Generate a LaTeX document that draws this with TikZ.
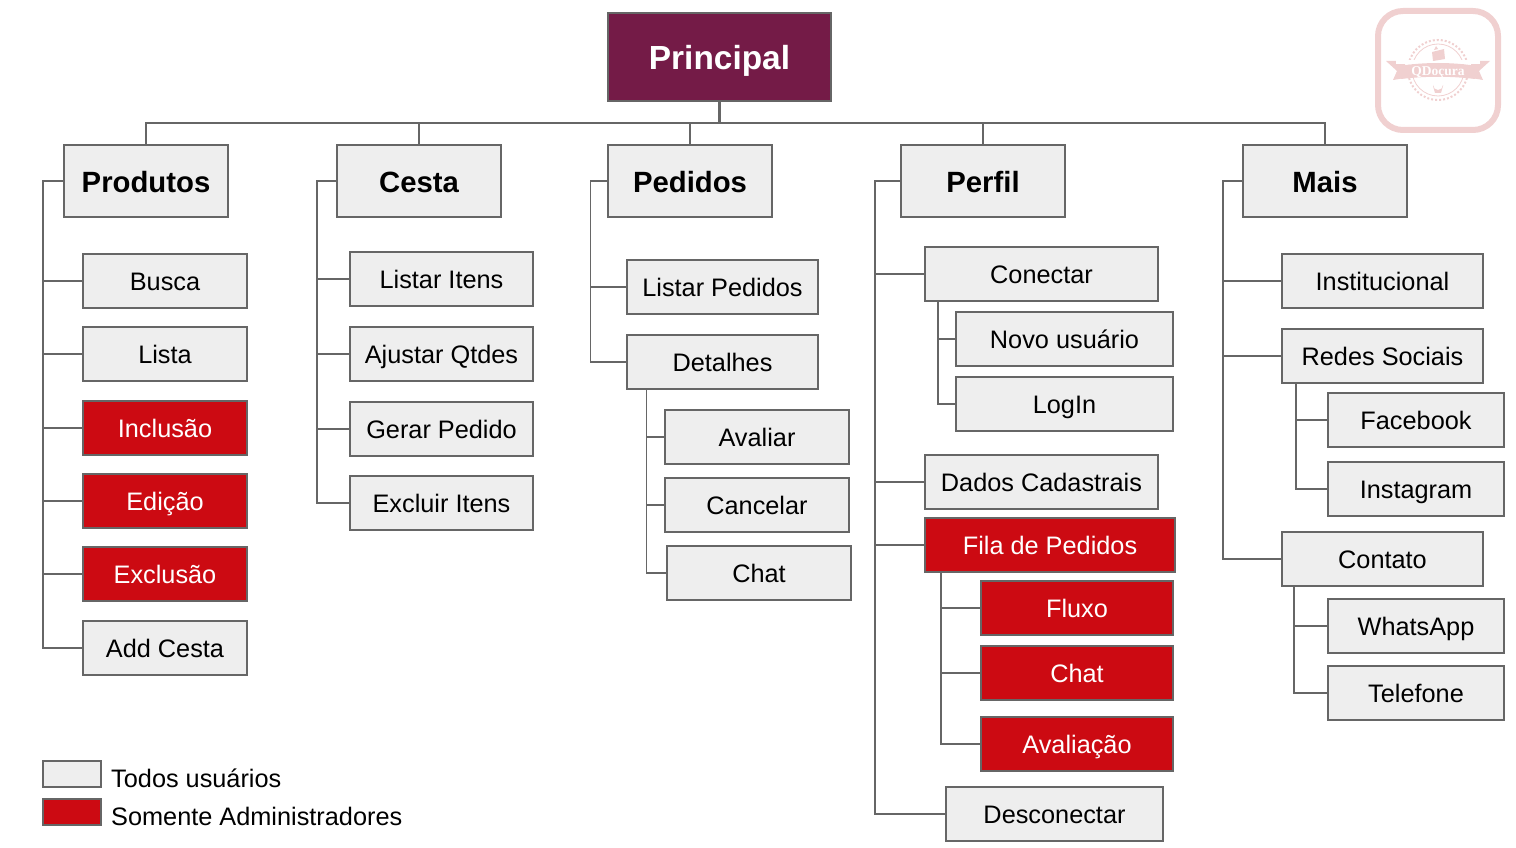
\documentclass[tikz,border=0pt]{standalone}
\usepackage{fontspec}
\setmainfont{Liberation Sans}
\newfontfamily\logofont{Liberation Serif}
\definecolor{boxgray}{HTML}{EEEEEE}
\definecolor{linegray}{HTML}{666666}
\definecolor{adminred}{HTML}{CC0A12}
\definecolor{wine}{HTML}{741B47}
\definecolor{logopink}{HTML}{F0D0D0}
\tikzset{
  basebox/.style={draw=linegray,line width=1.1pt,fill=boxgray,text=black,inner sep=0pt,text height=24.5pt,text depth=5.5pt,font=\fontsize{25.3}{30}\selectfont},
  headbox/.style={basebox,minimum width=164pt,minimum height=72pt,text height=29pt,text depth=6pt,font=\fontsize{29.3}{34}\selectfont\bfseries},
  leafbox/.style={basebox,minimum height=54pt},
  adminbox/.style={leafbox,fill=adminred,text=white},
  rootbox/.style={basebox,fill=wine,text=white,minimum width=223pt,minimum height=88pt,text height=32pt,text depth=7pt,font=\fontsize{33.4}{38}\selectfont\bfseries},
  legendbox/.style={draw=linegray,line width=1.1pt,minimum width=58pt,minimum height=26pt,inner sep=0pt},
  legendtext/.style={anchor=west,inner sep=0pt,text height=24.5pt,text depth=5.5pt,font=\fontsize{25.3}{30}\selectfont},
  link/.style={draw=linegray,line width=1.5pt},
}
\begin{document}
\begin{tikzpicture}[x=1pt,y=-1pt]
\useasboundingbox (0,0) rectangle (1516,848);
\coordinate (BUS) at (719.5,123); % top rail
\coordinate (TA) at (43,181); % left rails
\coordinate (TB) at (317,181);
\coordinate (TC) at (590.5,181);
\coordinate (TD) at (875,181);
\coordinate (TE) at (1223,181);
\coordinate (TDET) at (646.5,389); % rails under a leaf
\coordinate (TCON) at (938,301);
\coordinate (TFIL) at (941,572);
\coordinate (TRED) at (1296,383);
\coordinate (TCTT) at (1294,586);
% top rows
\node[rootbox] (principal) at (719.5,57) {Principal};
\node[headbox] (produtos) at (146,181) {Produtos};
\node[headbox] (cesta) at (419,181) {Cesta};
\node[headbox] (pedidos) at (690,181) {Pedidos};
\node[headbox] (perfil) at (983,181) {Perfil};
\node[headbox] (mais) at (1325,181) {Mais};
% produtos
\node[leafbox,minimum width=164pt] (busca) at (165,281) {Busca};
\node[leafbox,minimum width=164pt] (lista) at (165,354) {Lista};
\node[adminbox,minimum width=164pt] (inclusao) at (165,428) {Inclusão};
\node[adminbox,minimum width=164pt] (edicao) at (165,501) {Edição};
\node[adminbox,minimum width=164pt] (exclusao) at (165,574) {Exclusão};
\node[leafbox,minimum width=164pt] (addcesta) at (165,648) {Add Cesta};
% cesta
\node[leafbox,minimum width=183pt] (listaritens) at (441.5,279) {Listar Itens};
\node[leafbox,minimum width=183pt] (ajustar) at (441.5,354) {Ajustar Qtdes};
\node[leafbox,minimum width=183pt] (gerar) at (441.5,429) {Gerar Pedido};
\node[leafbox,minimum width=183pt] (excluir) at (441.5,503) {Excluir Itens};
% pedidos
\node[leafbox,minimum width=191pt] (listarped) at (722.5,287) {Listar Pedidos};
\node[leafbox,minimum width=191pt] (detalhes) at (722.5,362) {Detalhes};
\node[leafbox,minimum width=184pt] (avaliar) at (757,437) {Avaliar};
\node[leafbox,minimum width=184pt] (cancelar) at (757,505) {Cancelar};
\node[leafbox,minimum width=184pt] (chatped) at (759,573) {Chat};
% perfil
\node[leafbox,minimum width=233pt] (conectar) at (1041.5,274) {Conectar};
\node[leafbox,minimum width=217pt] (novo) at (1064.5,339) {Novo usuário};
\node[leafbox,minimum width=217pt] (login) at (1064.5,404) {LogIn};
\node[leafbox,minimum width=233pt] (dados) at (1041.5,482) {Dados Cadastrais};
\node[adminbox,minimum width=250pt] (fila) at (1050,545) {Fila de Pedidos};
\node[adminbox,minimum width=192pt] (fluxo) at (1077,608) {Fluxo};
\node[adminbox,minimum width=192pt] (chatfila) at (1077,673) {Chat};
\node[adminbox,minimum width=192pt] (avaliacao) at (1077,744) {Avaliação};
\node[leafbox,minimum width=217pt] (desconectar) at (1054.5,814) {Desconectar};
% mais
\node[leafbox,minimum width=201pt] (institucional) at (1382.5,281) {Institucional};
\node[leafbox,minimum width=201pt] (redes) at (1382.5,356) {Redes Sociais};
\node[leafbox,minimum width=176pt] (facebook) at (1416,420) {Facebook};
\node[leafbox,minimum width=176pt] (instagram) at (1416,489) {Instagram};
\node[leafbox,minimum width=201pt] (contato) at (1382.5,559) {Contato};
\node[leafbox,minimum width=176pt] (whatsapp) at (1416,626) {WhatsApp};
\node[leafbox,minimum width=176pt] (telefone) at (1416,693) {Telefone};
% connectors
\draw[link,line width=2.5pt] (principal.south) -- (BUS);
\draw[link] (BUS) -| (produtos.north);
\draw[link] (BUS) -| (cesta.north);
\draw[link] (BUS) -| (pedidos.north);
\draw[link] (BUS) -| (perfil.north);
\draw[link] (BUS) -| (mais.north);
\draw[link] (produtos.west) -- (TA) |- (busca.west);
\draw[link] (TA) |- (lista.west);
\draw[link] (TA) |- (inclusao.west);
\draw[link] (TA) |- (edicao.west);
\draw[link] (TA) |- (exclusao.west);
\draw[link] (TA) |- (addcesta.west);
\draw[link] (cesta.west) -- (TB) |- (listaritens.west);
\draw[link] (TB) |- (ajustar.west);
\draw[link] (TB) |- (gerar.west);
\draw[link] (TB) |- (excluir.west);
\draw[link] (pedidos.west) -- (TC) |- (listarped.west);
\draw[link] (TC) |- (detalhes.west);
\draw[link] (TDET) |- (avaliar.west);
\draw[link] (TDET) |- (cancelar.west);
\draw[link] (TDET) |- (chatped.west);
\draw[link] (perfil.west) -- (TD) |- (conectar.west);
\draw[link] (TD) |- (dados.west);
\draw[link] (TD) |- (fila.west);
\draw[link] (TD) |- (desconectar.west);
\draw[link] (TCON) |- (novo.west);
\draw[link] (TCON) |- (login.west);
\draw[link] (TFIL) |- (fluxo.west);
\draw[link] (TFIL) |- (chatfila.west);
\draw[link] (TFIL) |- (avaliacao.west);
\draw[link] (mais.west) -- (TE) |- (institucional.west);
\draw[link] (TE) |- (redes.west);
\draw[link] (TE) |- (contato.west);
\draw[link] (TRED) |- (facebook.west);
\draw[link] (TRED) |- (instagram.west);
\draw[link] (TCTT) |- (whatsapp.west);
\draw[link] (TCTT) |- (telefone.west);
% legend
\node[legendbox,fill=boxgray] (legall) at (72,774) {};
\node[legendbox,fill=adminred] (legadmin) at (72,812) {};
\node[legendtext] (legalltext) at (111,778) {Todos usuários};
\node[legendtext] (legadmintext) at (111,816) {Somente Administradores};
% logo
\draw[logopink,line width=6pt,rounded corners=25pt] (1378,11) rectangle (1498,130);
\draw[logopink,line width=2pt,dash pattern=on 2pt off 2pt] (1438,70) circle (30);
\draw[logopink,line width=0.8pt] (1438,70) circle (26);
\fill[logopink] (1386,61) -- (1405,61) -- (1405,78) -- (1393,80) -- (1397,71) -- cycle;
\fill[logopink] (1490,61) -- (1471,61) -- (1471,78) -- (1483,80) -- (1479,71) -- cycle;
\fill[white] (1396,60) rectangle (1480,64);
\fill[logopink] (1399,66) .. controls (1425,62) and (1451,62) .. (1477,66) -- (1475,79) .. controls (1450,76) and (1426,76) .. (1401,79) -- cycle;
\node[text=white,inner sep=0pt,font=\logofont\bfseries\fontsize{13.5}{15}\selectfont] (logotext) at (1438,72) {QDoçura};
\fill[logopink] (1432,52) -- (1444,49) -- (1445,59) -- (1433,61) -- cycle;
\fill[logopink] (1434,50) -- (1436,46) -- (1438,49) -- cycle;
\fill[logopink] (1433,85) arc (180:0:5) -- (1443,86) -- (1441,93) -- (1435,93) -- (1433,86) -- cycle;
\end{tikzpicture}
\end{document}
